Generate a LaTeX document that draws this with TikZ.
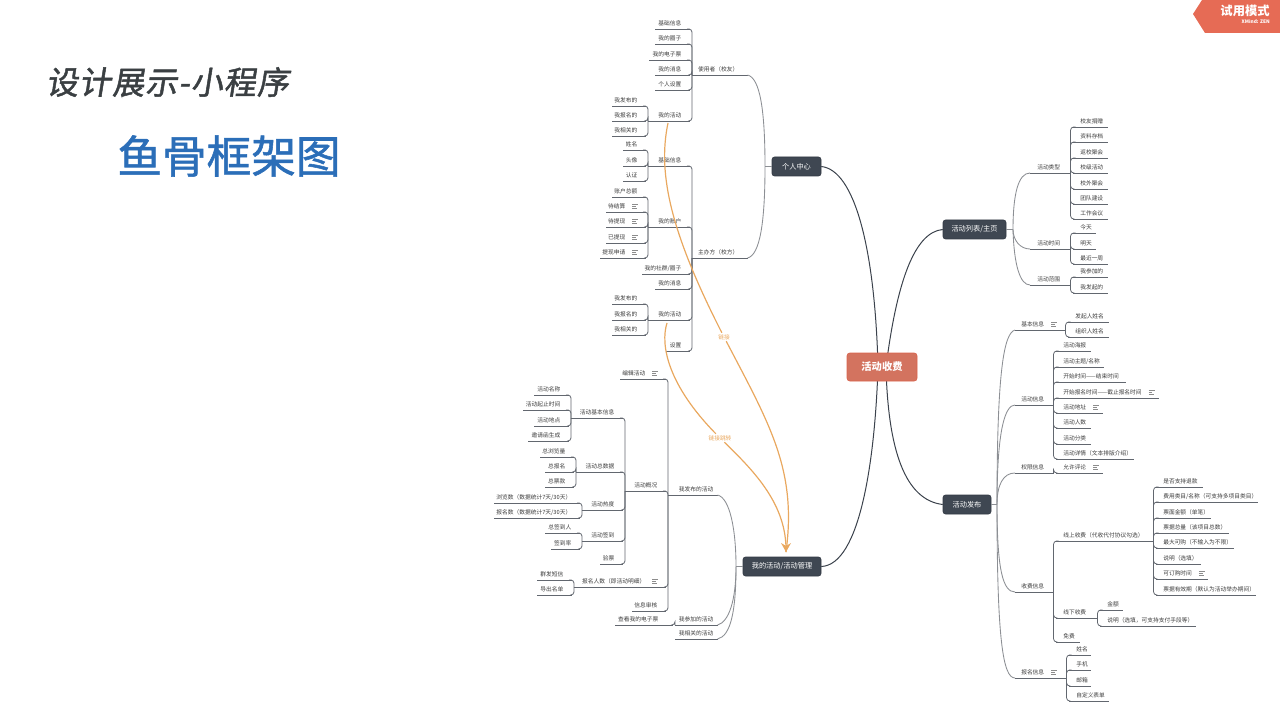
\documentclass[tikz,border=0pt]{standalone}
\usepackage{fontspec}
\setmainfont{Noto Sans CJK SC}
\newfontfamily\slantcjk[FakeSlant=0.16,LetterSpace=3.5,FakeBold=1.5]{Noto Sans CJK SC}
\newfontfamily\titlecjk[FakeBold=1.2]{Noto Sans CJK SC}
\newdimen\px \px=0.75pt
\pgfdeclarelayer{under}
\pgfsetlayers{under,main}
\definecolor{lnc}{HTML}{62676F}
\definecolor{brc}{HTML}{8C8F94}
\definecolor{mainc}{HTML}{3B424C}
\definecolor{boxc}{HTML}{3F4752}
\definecolor{boxe}{HTML}{333A44}
\definecolor{txtc}{HTML}{3C3C3C}
\definecolor{linkc}{HTML}{E9A85F}
\definecolor{rootc}{HTML}{D3735F}
\definecolor{roote}{HTML}{D9634C}
\definecolor{badgec}{HTML}{E66B55}
\definecolor{titlec}{HTML}{3A3F42}
\definecolor{bluec}{HTML}{2B6EB8}
\definecolor{notec}{HTML}{8C8C8C}
\tikzset{
  lf/.style={inner sep=0pt,minimum height=10.5*\px,text=txtc,font=\fontsize{4.3}{5}\selectfont},
  ln/.style={draw=lnc,line width=.6pt,rounded corners=2.4pt},
  br/.style={draw=brc,line width=.65pt},
  mainln/.style={draw=mainc,line width=.75pt},
  topic/.style={draw=boxe,fill=boxc,line width=.4pt,rounded corners=1.8pt,inner sep=0pt,text=white,font=\fontsize{5.4}{6}\selectfont,minimum height=19*\px},
  rootbox/.style={draw=roote,fill=rootc,line width=.4pt,rounded corners=2pt,inner sep=0pt,text=white,font=\fontsize{7.7}{9}\selectfont\bfseries,minimum width=70*\px,minimum height=28*\px},
  linkln/.style={draw=linkc,line width=.9pt},
  linklabel/.style={inner sep=1pt,text=linkc,font=\fontsize{4.3}{5}\selectfont},
}
\newcommand{\noteic}{\hspace{7\px}{\color{notec}\rlap{\rule[3.9\px]{6\px}{.55\px}}\rlap{\rule[2.1\px]{3.6\px}{.55\px}}\rule[.3\px]{5\px}{.55\px}}}
% left-hand leaf: text set against the right end of its line
\newcommand{\lfL}[6][8]{%
  \pgfmathsetlengthmacro\lfwd{(#4-#3)*0.75pt}%
  \node[lf,anchor=south west] (#2) at (#3,#5) {\makebox[\lfwd][r]{#6\hspace*{#1\px}}};
  \draw[ln] (#2.south west) -- (#2.south east);
}
% right-hand leaf: text set against the left end of its line
\newcommand{\lfR}[6][7]{%
  \pgfmathsetlengthmacro\lfwd{(#4-#3)*0.75pt}%
  \node[lf,anchor=south west] (#2) at (#3,#5) {\makebox[\lfwd][l]{\hspace*{#1\px}#6}};
  \draw[ln] (#2.south west) -- (#2.south east);
}
\newcommand{\brL}[2]{\foreach \kid in {#2}{\draw[ln] (#1.south west) |- (\kid.south east);}}
\newcommand{\brR}[2]{\foreach \kid in {#2}{\draw[ln] (#1.south east) |- (\kid.south west);}}
\begin{document}
\begin{tikzpicture}[x=0.75pt,y=-0.75pt]
\useasboundingbox (0,0) rectangle (1280,720);
% titles
\node[inner sep=0pt,text=titlec,font=\fontsize{24}{26}\slantcjk] (title1) at (167.5,82) {设计展示-小程序};
\node[inner sep=0pt,text=bluec,font=\fontsize{33.5}{36}\titlecjk] (title2) at (229,156) {鱼骨框架图};
% trial badge
\fill[badgec] (1280,0) -- (1202,0) -- (1193,14) -- (1205,33) -- (1280,33) -- cycle;
\node[inner sep=0pt,text=white,font=\fontsize{9.2}{10}\selectfont\bfseries] (trial) at (1245,11) {试用模式};
\node[inner sep=0pt,text=white,anchor=east,font=\fontsize{3.6}{4}\selectfont\bfseries] (zen) at (1270,21.5) {XMind: ZEN};

% ---- main topics
\node[rootbox] (root) at (882,367) {活动收费};
\coordinate (rootL) at (878,367);
\coordinate (rootR) at (886,367);
\node[topic,minimum width=49*\px] (pc) at (796.5,166.5) {个人中心};
\node[topic,minimum width=78*\px] (my) at (782,566.5) {我的活动/活动管理};
\node[topic,minimum width=63*\px] (list) at (974.5,229.5) {活动列表/主页};
\node[topic,minimum width=48*\px] (pub) at (967,504.5) {活动发布};
\begin{pgfonlayer}{under}
\draw[mainln] (rootL) .. controls (875,250) and (855,170) .. (pc.east);
\draw[mainln] (rootL) .. controls (875,460) and (860,565) .. (my.east);
\draw[mainln] (rootR) .. controls (897,280) and (915,232) .. (list.west);
\draw[mainln] (rootR) .. controls (888,450) and (905,500) .. (pub.west);
\end{pgfonlayer}

% ---- 个人中心
\coordinate (jpc) at (765,166.5);
\draw[br] (pc.west) -- (jpc);
\lfL[9]{user}{692}{747}{75}{使用者（校友）}
\lfL[9]{host}{692}{747}{258}{主办方（校方）}
\draw[br] (user.south east) .. controls (760,78) and (765,110) .. (jpc);
\draw[br] (host.south east) .. controls (760,255) and (765,222) .. (jpc);
\lfL{ua}{655}{689}{29}{基础信息}
\lfL{ub}{655}{689}{44}{我的圈子}
\lfL{uc}{649}{689}{60}{我的电子票}
\lfL{ud}{655}{689}{75}{我的消息}
\lfL{ue}{655}{689}{90}{个人设置}
\lfL{uf}{648}{689}{121}{我的活动}
\brL{user}{ua,ub,uc,ud,ue,uf}
\lfL{ufa}{612}{645}{106}{我发布的}
\lfL{ufb}{612}{645}{121}{我报名的}
\lfL{ufc}{612}{645}{136}{我相关的}
\brL{uf}{ufa,ufb,ufc}
\lfL{ha}{648}{689}{166}{基础信息}
\lfL{hb}{648}{689}{227}{我的账户}
\lfL{hc}{642}{689}{274}{我的社群/圈子}
\lfL{hd}{655}{689}{289}{我的消息}
\lfL{he}{648}{689}{320}{我的活动}
\lfL{hf}{666}{689}{351}{设置}
\brL{host}{ha,hb,hc,hd,he,hf}
\lfL{haa}{623}{645}{150}{姓名}
\lfL{hab}{623}{645}{166}{头像}
\lfL{hac}{623}{645}{181}{认证}
\brL{ha}{haa,hab,hac}
\lfL{hba}{612}{645}{197}{账户总额}
\lfL{hbb}{606}{645}{212}{待结算\noteic}
\lfL{hbc}{606}{645}{227}{待提现\noteic}
\lfL{hbd}{606}{645}{243}{已提现\noteic}
\lfL{hbe}{600}{645}{258}{提现申请\noteic}
\brL{hb}{hba,hbb,hbc,hbd,hbe}
\lfL{hea}{612}{645}{304}{我发布的}
\lfL{heb}{612}{645}{320}{我报名的}
\lfL{hec}{612}{645}{335}{我相关的}
\brL{he}{hea,heb,hec}

% ---- 我的活动/活动管理
\coordinate (jmy) at (736,566.5);
\draw[br] (my.west) -- (jmy);
\lfL[4]{ma}{668}{717}{495}{我发布的活动}
\lfL[4]{mb}{675}{717}{625}{我参加的活动}
\lfL[4]{mc}{675}{717}{639}{我相关的活动}
\draw[br] (ma.south east) .. controls (730,498) and (736,530) .. (jmy);
\draw[br] (mb.south east) .. controls (729,622) and (736,600) .. (jmy);
\draw[br] (mc.south east) .. controls (731,636) and (736,610) .. (jmy);
\lfL[14]{mba}{615}{672}{625}{查看我的电子票}
\brL{mb}{mba}
\lfL{maa}{620}{665}{379}{编辑活动\noteic}
\lfL{mab}{625}{665}{491}{活动概况}
\lfL{mac}{574}{665}{587}{报名人数（即活动明细）\noteic}
\lfL{mad}{632}{665}{611}{信息审核}
\brL{ma}{maa,mab,mac,mad}
\lfL{pa}{571}{622}{418}{活动基本信息}
\lfL{pb}{576}{622}{472}{活动总数据}
\lfL{pc2}{582}{622}{510}{活动热度}
\lfL{pd}{582}{622}{541}{活动签到}
\lfL{pe}{600}{622}{564}{验票}
\brL{mab}{pa,pb,pc2,pd,pe}
\lfL{paa}{534}{568}{395}{活动名称}
\lfL{pab}{523}{568}{410}{活动起止时间}
\lfL{pac}{534}{568}{426}{活动地点}
\lfL{pad}{528}{568}{441}{邀请函生成}
\brL{pa}{paa,pab,pac,pad}
\lfL{pba}{540}{573}{457}{总浏览量}
\lfL{pbb}{545}{573}{472}{总报名}
\lfL{pbc}{545}{573}{487}{总票款}
\brL{pb}{pba,pbb,pbc}
\lfL{pca}{494}{579}{503}{浏览数（数据统计7天/30天）}
\lfL{pcb}{494}{579}{518}{报名数（数据统计7天/30天）}
\brL{pc2}{pca,pcb}
\lfL{pda}{545}{579}{533}{总签到人}
\lfL{pdb}{551}{579}{549}{签到率}
\brL{pd}{pda,pdb}
\lfL{mca}{537}{571}{580}{群发短信}
\lfL{mcb}{537}{571}{595}{导出名单}
\brL{mac}{mca,mcb}

% ---- 活动列表/主页
\coordinate (jlist) at (1013,229.5);
\draw[br] (list.east) -- (jlist);
\lfR{la}{1030}{1070}{173}{活动类型}
\lfR{lb}{1030}{1070}{249}{活动时间}
\lfR{lc}{1030}{1070}{285}{活动范围}
\draw[br] (la.south west) .. controls (1018,173) and (1013,195) .. (jlist);
\draw[br] (lb.south west) .. controls (1020,249) and (1013,240) .. (jlist);
\draw[br] (lc.south west) .. controls (1020,285) and (1014,265) .. (jlist);
\lfR{laa}{1073}{1107}{127}{校友捐赠}
\lfR{lab}{1073}{1107}{142}{资料存档}
\lfR{lac}{1073}{1107}{158}{返校聚会}
\lfR{lad}{1073}{1107}{173}{校级活动}
\lfR{lae}{1073}{1107}{189}{校外聚会}
\lfR{laf}{1073}{1107}{204}{团队建设}
\lfR{lag}{1073}{1107}{219}{工作会议}
\brR{la}{laa,lab,lac,lad,lae,laf,lag}
\lfR{lba}{1073}{1095}{233}{今天}
\lfR{lbb}{1073}{1095}{249}{明天}
\lfR{lbc}{1073}{1107}{264}{最近一周}
\brR{lb}{lba,lbb,lbc}
\lfR{lca}{1073}{1107}{277}{我参加的}
\lfR{lcb}{1073}{1107}{293}{我发起的}
\brR{lc}{lca,lcb}

% ---- 活动发布
\coordinate (jpub) at (997,504.5);
\draw[br] (pub.east) -- (jpub);
\lfR[6]{ra}{1015}{1065}{330}{基本信息\noteic}
\lfR[6]{rb}{1015}{1053}{405}{活动信息}
\lfR[6]{rc}{1015}{1053}{473}{权限信息}
\lfR[6]{rd}{1015}{1053}{592}{收费信息}
\lfR[6]{re}{1015}{1066}{678}{报名信息\noteic}
\draw[br] (ra.south west) .. controls (1004,333) and (997,370) .. (jpub);
\draw[br] (rb.south west) .. controls (1005,405) and (997,430) .. (jpub);
\draw[br] (rc.south west) .. controls (1003,473) and (997,485) .. (jpub);
\draw[br] (rd.south west) .. controls (1003,592) and (997,570) .. (jpub);
\draw[br] (re.south west) .. controls (1003,678) and (997,640) .. (jpub);
\lfR{raa}{1068}{1108}{322}{发起人姓名}
\lfR{rab}{1068}{1108}{337}{组织人姓名}
\brR{ra}{raa,rab}
\lfR{rba}{1056}{1090}{351}{活动海报}
\lfR{rbb}{1056}{1103}{367}{活动主题/名称}
\lfR{rbc}{1056}{1125}{382}{开始时间——结束时间}
\lfR{rbd}{1056}{1158}{398}{开始报名时间——截止报名时间\noteic}
\lfR{rbe}{1056}{1102}{413}{活动地址\noteic}
\lfR{rbf}{1056}{1090}{428}{活动人数}
\lfR{rbg}{1056}{1090}{444}{活动分类}
\lfR{rbh}{1056}{1133}{459}{活动详情（文本排版介绍）}
\brR{rb}{rba,rbb,rbc,rbd,rbe,rbf,rbg,rbh}
\lfR{rca}{1056}{1102}{473}{允许评论\noteic}
\brR{rc}{rca}
\lfR{rda}{1056}{1153}{541}{线上收费（代收代付协议勾选）}
\lfR{rdb}{1056}{1097}{618}{线下收费}
\lfR{rdc}{1056}{1079}{642}{免费}
\brR{rd}{rda,rdb,rdc}
\lfR{s1}{1156}{1202}{487}{是否支持退款}
\lfR{s2}{1156}{1257}{502}{费用类目/名称（可支持多项目类目）}
\lfR{s3}{1156}{1210}{518}{票面金额（单笔）}
\lfR{s4}{1156}{1228}{533}{票据总量（该项目总数）}
\lfR{s5}{1156}{1233}{548}{最大可购（不输入为不限）}
\lfR{s6}{1156}{1200}{564}{说明（选填）}
\lfR{s7}{1156}{1207}{579}{可订购时间\noteic}
\lfR{s8}{1156}{1255}{595}{票据有效期（默认为活动举办期间）}
\brR{rda}{s1,s2,s3,s4,s5,s6,s7,s8}
\lfR{t1}{1100}{1122}{610}{金额}
\lfR{t2}{1100}{1195}{626}{说明（选填，可支持支付手段等）}
\brR{rdb}{t1,t2}
\lfR{u1}{1069}{1090}{655}{姓名}
\lfR{u2}{1069}{1090}{670}{手机}
\lfR{u3}{1069}{1090}{686}{邮箱}
\lfR{u4}{1069}{1108}{701}{自定义表单}
\brR{re}{u1,u2,u3,u4}

% ---- orange links
\coordinate (lka) at (668,123);
\coordinate (lkb) at (667,323);
\coordinate (tip) at (786,552);
\node[linklabel] (lbla) at (724,337) {链接};
\node[linklabel] (lblb) at (720,438) {链接跳转};
\draw[linkln] (lka) .. controls (657,175) and (672,235) .. (lbla);
\draw[linkln] (lbla) .. controls (770,425) and (797,470) .. (tip);
\draw[linkln] (lkb) .. controls (660,345) and (668,385) .. (lblb);
\draw[linkln] (lblb) .. controls (755,472) and (787,505) .. (tip);
\fill[linkc] (tip) -- ++(-5,-9) -- ++(5,3) -- ++(5,-3) -- cycle;
\end{tikzpicture}
\end{document}
